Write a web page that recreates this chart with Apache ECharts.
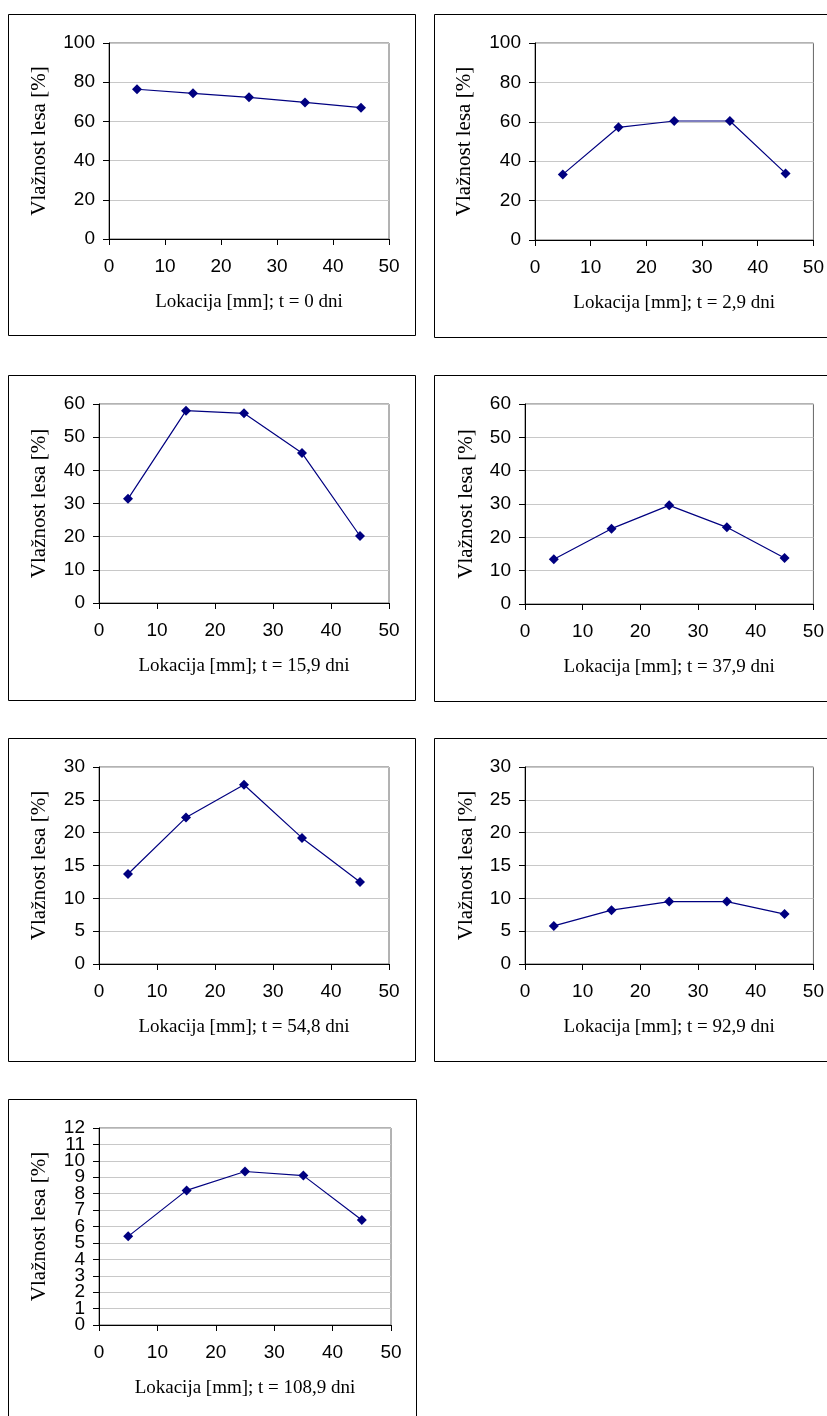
<!DOCTYPE html>
<html>
<head>
<meta charset="utf-8">
<script src="https://cdn.jsdelivr.net/npm/echarts@6/dist/echarts.min.js"></script>
<style>
html,body{margin:0;padding:0;background:#fff;}
#c{width:827px;height:1416px;}
</style>
</head>
<body>
<div id="c"></div>
<script>
// Data
const locations = [5, 15, 25, 35, 45];
const moisture_t0 = [76.4, 74.3, 72.3, 69.7, 67.0];
const moisture_t2_9 = [33.3, 57.2, 60.4, 60.4, 33.8];
const moisture_t15_9 = [31.4, 58.0, 57.2, 45.2, 20.2];
const moisture_t37_9 = [13.4, 22.6, 29.6, 23.0, 13.8];
const moisture_t54_8 = [13.7, 22.3, 27.3, 19.2, 12.5];
const moisture_t92_9 = [5.8, 8.2, 9.5, 9.5, 7.6];
const moisture_t108_9 = [5.4, 8.2, 9.35, 9.1, 6.4];
const xTitles = [
  "Lokacija [mm]; t = 0 dni",
  "Lokacija [mm]; t = 2,9 dni",
  "Lokacija [mm]; t = 15,9 dni",
  "Lokacija [mm]; t = 37,9 dni",
  "Lokacija [mm]; t = 54,8 dni",
  "Lokacija [mm]; t = 92,9 dni",
  "Lokacija [mm]; t = 108,9 dni"
];
const yTitle = "Vlažnost lesa [%]";
const yMax = [100, 100, 60, 60, 30, 30, 12];
const yStep = [20, 20, 10, 10, 5, 5, 1];
const xRange = [0, 50, 10];
const seriesData = [moisture_t0, moisture_t2_9, moisture_t15_9, moisture_t37_9, moisture_t54_8, moisture_t92_9, moisture_t108_9];

// Layout
const grids = [
  {left: 109, top: 43, width: 280, height: 196},
  {left: 535, top: 43, width: 281, height: 197},
  {left: 99, top: 404, width: 290, height: 199},
  {left: 525, top: 404, width: 291, height: 200},
  {left: 99, top: 767, width: 290, height: 197},
  {left: 525, top: 767, width: 292, height: 197},
  {left: 99, top: 1128, width: 292, height: 197}
];
const boxes = [
  [8, 14, 407, 321],
  [434, 14, 420, 323],
  [8, 375, 407, 325],
  [434, 375, 420, 326],
  [8, 738, 407, 323],
  [434, 738, 420, 323],
  [8, 1099, 408, 330]
];
const yNameGap = [59, 60, 49, 48, 49, 48, 49];
// dense axis (last chart): end labels drawn by a helper axis so none get hidden
const denseIdx = 6;

const sans = "'Liberation Sans', Arial, sans-serif";
const serif = "'Liberation Serif', 'Times New Roman', serif";
const navy = '#000080';

const yAxes = grids.map((g, i) => ({
  type: 'value', gridIndex: i, min: 0, max: yMax[i], interval: yStep[i],
  name: yTitle, nameLocation: 'middle', nameGap: yNameGap[i],
  nameTextStyle: {fontFamily: serif, fontSize: 21, color: '#000', width: 142, overflow: 'truncate', ellipsis: ''},
  axisLine: {show: true, onZero: false, lineStyle: {color: '#000', width: 1}},
  axisTick: {show: true, inside: false, length: 6, lineStyle: {color: '#000'}},
  axisLabel: {margin: 14, fontFamily: sans, fontSize: 19, color: '#000',
    showMinLabel: i === denseIdx ? false : true, showMaxLabel: i === denseIdx ? false : true, hideOverlap: false},
  splitLine: {show: true, lineStyle: {color: '#c8c8c8', width: 1}}
}));
yAxes.push({
  type: 'value', gridIndex: denseIdx, position: 'left', min: 0, max: yMax[denseIdx], interval: yMax[denseIdx],
  axisLine: {show: false}, axisTick: {show: true, inside: false, length: 6, lineStyle: {color: '#000'}},
  axisLabel: {margin: 14, fontFamily: sans, fontSize: 19, color: '#000', showMinLabel: true, showMaxLabel: true},
  splitLine: {show: false}
});

const option = {
  animation: false,
  backgroundColor: '#fff',
  grid: grids.map(g => Object.assign({show: true, borderColor: '#666', borderWidth: 1, backgroundColor: 'transparent'}, g)),
  xAxis: grids.map((g, i) => ({
    type: 'value', gridIndex: i, min: xRange[0], max: xRange[1], interval: xRange[2],
    name: xTitles[i], nameLocation: 'middle', nameGap: 54,
    nameTextStyle: {fontFamily: serif, fontSize: 19, color: '#000'},
    axisLine: {show: true, onZero: false, lineStyle: {color: '#000', width: 1}},
    axisTick: {show: true, inside: false, length: 6, lineStyle: {color: '#000'}},
    axisLabel: {margin: 18, fontFamily: sans, fontSize: 19, color: '#000', showMinLabel: true, showMaxLabel: true, hideOverlap: false},
    splitLine: {show: false}
  })),
  yAxis: yAxes,
  series: seriesData.map((d, i) => ({
    type: 'line', xAxisIndex: i, yAxisIndex: i,
    data: locations.map((x, k) => [x, d[k]]),
    symbol: 'diamond', symbolSize: 10, showSymbol: true,
    lineStyle: {color: navy, width: 1.2},
    itemStyle: {color: navy, borderWidth: 0},
    silent: true
  })),
  graphic: boxes.map(b => ({
    type: 'rect', shape: {x: b[0] + 0.5, y: b[1] + 0.5, width: b[2], height: b[3]},
    style: {fill: 'none', stroke: '#000', lineWidth: 1}, silent: true, z: -1
  }))
};

const chart = echarts.init(document.getElementById('c'), null, {renderer: 'canvas'});
chart.setOption(option);
</script>
</body>
</html>
